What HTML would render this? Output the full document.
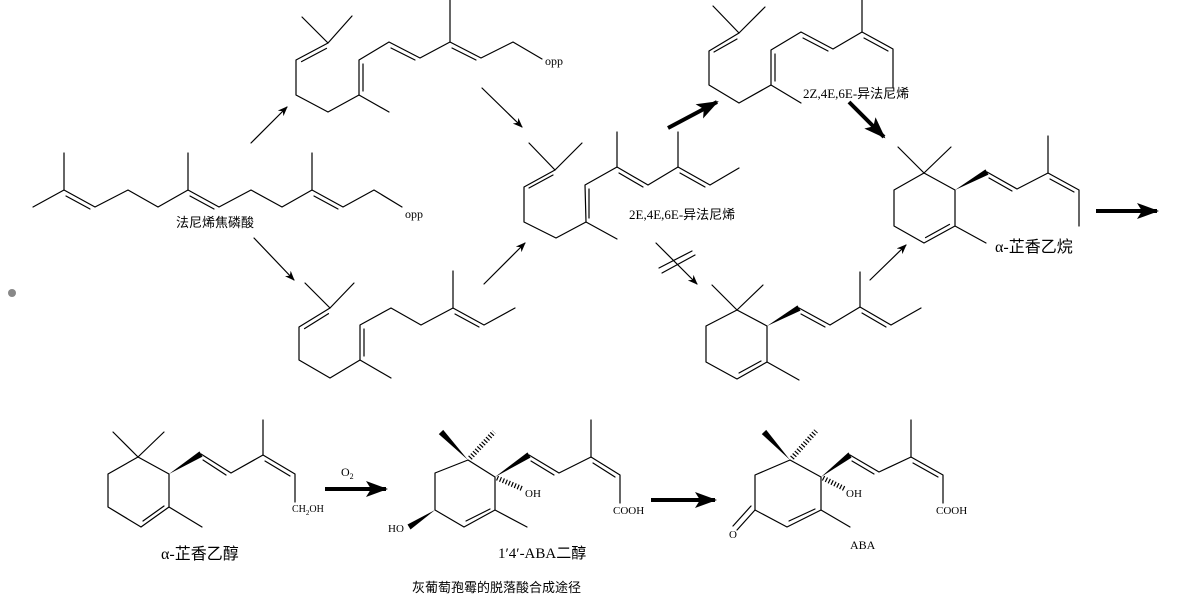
<!DOCTYPE html>
<html><head><meta charset="utf-8"><style>
html,body{margin:0;padding:0;background:#fff;width:1184px;height:602px;overflow:hidden}
svg{display:block}
text{font-family:"Liberation Serif","Noto Sans CJK SC",serif;fill:#000}
</style></head><body>
<svg width="1184" height="602" viewBox="0 0 1184 602" xmlns="http://www.w3.org/2000/svg">
<defs>
<marker id="ah" markerWidth="10" markerHeight="8" refX="9" refY="4" orient="auto" markerUnits="userSpaceOnUse"><path d="M0,0 L10,4 L0,8 L3,4 z" fill="#000"/></marker>
<marker id="bh" markerWidth="22" markerHeight="16" refX="20" refY="8" orient="auto" markerUnits="userSpaceOnUse"><path d="M0,0 L22,8 L0,16 L5,8 z" fill="#000"/></marker>
</defs>
<g stroke="#000" stroke-width="1.2" fill="none" stroke-linecap="round" stroke-linejoin="round">
<!-- FPP -->
<polyline points="33,207 64,190 95,207 128,190 158,207 188,190 219,207 251,190 282,207 312,190 343,207 374,190 402,207"/>
<line x1="64" y1="190" x2="64" y2="153"/><line x1="188" y1="190" x2="188" y2="153"/><line x1="312" y1="190" x2="312" y2="153"/>
<line x1="66" y1="196" x2="90" y2="209"/><line x1="190" y1="196" x2="214" y2="209"/><line x1="314" y1="196" x2="338" y2="209"/>
<!-- top intermediate -->
<polyline points="302,17 328,43 352,16"/>
<polyline points="328,43 296,60 296,95 328,112 359,95 389,112"/>
<polyline points="359,95 359,60 389,42 420,58 450,42 481,58 513,42 542,59"/>
<line x1="450" y1="42" x2="450" y2="0"/>
<line x1="301.5" y1="61.6" x2="326.5" y2="48.4"/><line x1="363" y1="64" x2="363" y2="91"/>
<line x1="391" y1="48" x2="415" y2="60"/><line x1="452" y1="48" x2="476" y2="60"/>
<!-- middle -->
<polyline points="529,143 555,170 582,143"/>
<polyline points="555,170 524,187 524,222 556,238 586,222 617,239"/>
<polyline points="586,222 585,185 617,167 648,185 678,167 710,185 739,168"/>
<line x1="617" y1="167" x2="617" y2="132"/><line x1="678" y1="167" x2="678" y2="132"/>
<line x1="529" y1="188" x2="553" y2="175"/><line x1="589" y1="189" x2="589" y2="218"/>
<line x1="619" y1="173" x2="643" y2="187"/><line x1="680" y1="173" x2="705" y2="187"/>
<!-- bottom intermediate -->
<polyline points="305,283 330,308 354,283"/>
<polyline points="330,308 299,327 299,360 330,378 360,360 391,378"/>
<polyline points="360,360 360,325 391,308 421,325 453,308 484,325 515,308"/>
<line x1="453" y1="308" x2="453" y2="271"/>
<line x1="304.5" y1="328.6" x2="328.5" y2="313.6"/><line x1="364" y1="329" x2="364" y2="356"/><line x1="455" y1="314" x2="479" y2="327"/>
<!-- top right -->
<polyline points="713,6 739,33 765,7"/>
<polyline points="739,33 709,51 709,85 739,103 771,85 801,103"/>
<polyline points="771,85 771,50 801,32 833,49 862,32 893,49 893,87"/>
<line x1="862" y1="32" x2="862" y2="0"/>
<line x1="714" y1="52" x2="737" y2="39"/><line x1="775" y1="54" x2="775" y2="81"/>
<line x1="803" y1="38" x2="828" y2="51"/><line x1="864" y1="38" x2="888" y2="51"/>
<!-- alpha ionylidene ethane -->
<polyline points="898,147 924,173 951,147"/>
<polygon points="924,173 955,190 955,226 924,243 894,226 894,190"/>
<line x1="955" y1="226" x2="986" y2="243"/>
<line x1="949.5" y1="224.4" x2="925.5" y2="237.6"/>
<polyline points="987,172 1017,189 1048,173 1079,190 1079,226"/>
<line x1="1048" y1="173" x2="1048" y2="136"/>
<line x1="989" y1="178" x2="1012" y2="191"/><line x1="1050" y1="179" x2="1074" y2="192"/>
<!-- bottom ring -->
<polyline points="712,285 737,310 763,285"/>
<polygon points="737,310 767,326 767,362 737,379 706,362 706,326"/>
<line x1="767" y1="362" x2="799" y2="380"/>
<line x1="761" y1="361" x2="739" y2="373"/>
<polyline points="799,308 830,325 860,307 891,325 921,308"/>
<line x1="860" y1="307" x2="860" y2="272"/>
<line x1="801" y1="314" x2="825" y2="327"/><line x1="862" y1="313" x2="886" y2="327"/>
<!-- alpha ionylidene ethanol -->
<polyline points="113,432 138,457 164,432"/>
<polygon points="138,457 169,474 169,507 141,527 108,507 108,474"/>
<line x1="169" y1="507" x2="202" y2="527"/>
<line x1="164" y1="506" x2="143" y2="521"/>
<polyline points="201,454 231,473 263,455 295,474 295,502"/>
<line x1="263" y1="455" x2="263" y2="420"/>
<line x1="203" y1="460" x2="226" y2="475"/><line x1="265" y1="461" x2="290" y2="476"/>
<!-- diol -->
<polygon points="468,460 495,477 495,510 464,527 435,510 435,473"/>
<line x1="495" y1="510" x2="527" y2="527"/>
<line x1="490" y1="509" x2="466" y2="521"/>
<polyline points="529,455 559,473 591,457 620,475 620,503"/>
<line x1="591" y1="457" x2="591" y2="420"/>
<line x1="531" y1="461" x2="554" y2="475"/><line x1="593" y1="463" x2="615" y2="477"/>
<!-- ABA -->
<polygon points="790,460 821,477 821,510 787,527 755,510 755,475"/>
<line x1="821" y1="510" x2="850" y2="527"/>
<line x1="815" y1="509" x2="789" y2="521"/>
<line x1="755" y1="510" x2="737" y2="530"/><line x1="751" y1="506" x2="733" y2="526"/>
<polyline points="850,455 879,472 911,457 943,475 943,503"/>
<line x1="911" y1="457" x2="911" y2="420"/>
<line x1="852" y1="461" x2="874" y2="474"/><line x1="913" y1="463" x2="938" y2="477"/>
<!-- hashed bonds -->
<g stroke-width="5" stroke-dasharray="1.2,2" stroke-linecap="butt">
<line x1="470" y1="458" x2="494" y2="432"/>
<line x1="497" y1="478" x2="523" y2="489"/>
<line x1="792" y1="458" x2="816" y2="431"/>
<line x1="823" y1="478" x2="845" y2="489"/>
</g>
<!-- thin arrows -->
<line x1="251" y1="143" x2="287" y2="107" marker-end="url(#ah)"/>
<line x1="482" y1="88" x2="522" y2="127" marker-end="url(#ah)"/>
<line x1="254" y1="238" x2="294" y2="280" marker-end="url(#ah)"/>
<line x1="484" y1="284" x2="525" y2="243" marker-end="url(#ah)"/>
<line x1="870" y1="280" x2="906" y2="245" marker-end="url(#ah)"/>
<line x1="656" y1="243" x2="697" y2="284" marker-end="url(#ah)"/>
<line x1="659" y1="268" x2="692" y2="251"/><line x1="662" y1="273" x2="695" y2="255"/>
<!-- bold arrows -->
<g stroke-width="4" stroke-linecap="butt">
<line x1="668" y1="128" x2="717" y2="102" marker-end="url(#bh)"/>
<line x1="849" y1="102" x2="884" y2="137" marker-end="url(#bh)"/>
<line x1="1096" y1="211" x2="1157" y2="211" marker-end="url(#bh)"/>
<line x1="325" y1="489" x2="386" y2="489" marker-end="url(#bh)"/>
<line x1="651" y1="500" x2="715" y2="500" marker-end="url(#bh)"/>
</g>
</g>
<!-- wedges -->
<g fill="#000">
<polygon points="955,190 985.5,169.4 988.5,174.6"/>
<polygon points="767,326 797.5,305.4 800.5,310.6"/>
<polygon points="169,474 199.5,451.4 202.5,456.6"/>
<polygon points="495,477 527.5,452.4 530.5,457.6"/>
<polygon points="468,460 443.2,429.9 438.8,434.1"/>
<polygon points="435,510 407.5,524.5 410.5,529.5"/>
<polygon points="790,460 766.2,429.9 761.8,434.1"/>
<polygon points="821,477 848.5,452.4 851.5,457.6"/>
</g>
<circle cx="12" cy="293" r="4" fill="#888"/>
<!-- labels -->
<g font-size="12">
<text x="405" y="218" font-family="Liberation Mono,monospace">opp</text>
<text x="545" y="65" font-family="Liberation Mono,monospace">opp</text>
<text x="176" y="227" font-size="13">法尼烯焦磷酸</text>
<text x="629" y="219" font-size="13">2E,4E,6E-异法尼烯</text>
<text x="803" y="98" font-size="13">2Z,4E,6E-异法尼烯</text>
<text x="995" y="252" font-size="16">α-芷香乙烷</text>
<text x="292" y="512" font-size="10">CH<tspan font-size="7" dy="3">2</tspan><tspan dy="-3">OH</tspan></text>
<text x="341" y="476" font-size="12">O<tspan font-size="8" dy="3">2</tspan></text>
<text x="161" y="559" font-size="16">α-芷香乙醇</text>
<text x="525" y="497" font-size="11">OH</text>
<text x="388" y="532" font-size="11">HO</text>
<text x="613" y="514" font-size="11">COOH</text>
<text x="498" y="558" font-size="15">1′4′-ABA二醇</text>
<text x="846" y="497" font-size="11">OH</text>
<text x="729" y="538" font-size="11">O</text>
<text x="936" y="514" font-size="11">COOH</text>
<text x="850" y="549" font-size="12">ABA</text>
<text x="412" y="592" font-size="13">灰葡萄孢霉的脱落酸合成途径</text>
</g>
</svg>
</body></html>
